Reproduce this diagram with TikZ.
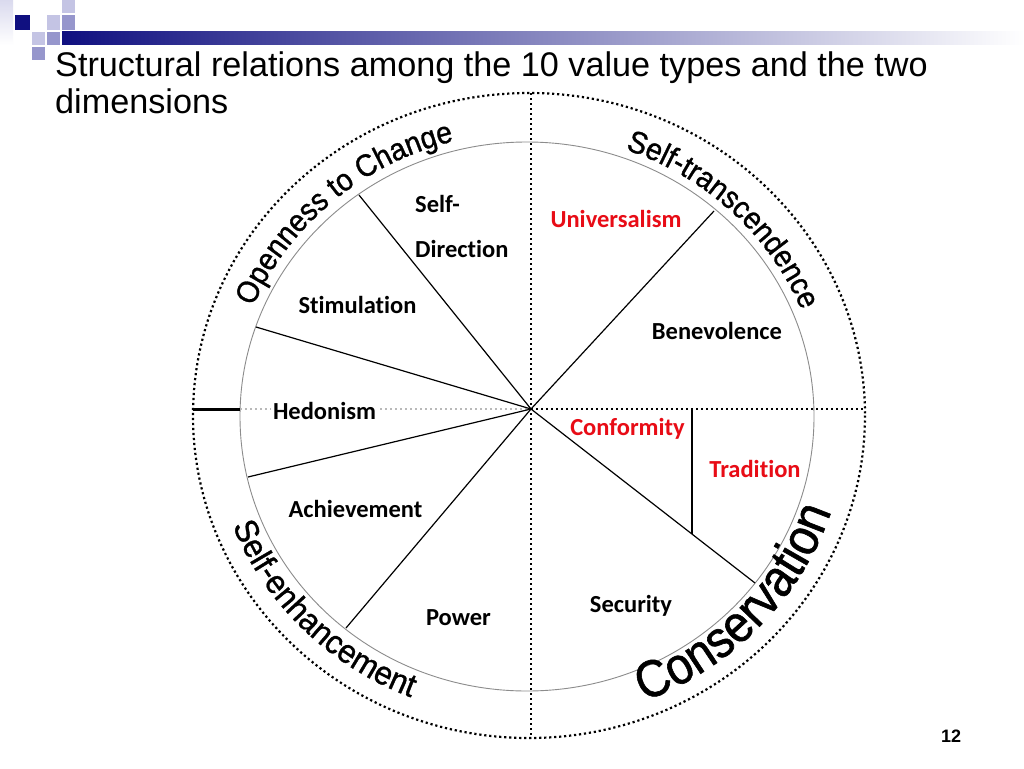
\documentclass[tikz,border=0pt]{standalone}
\usepackage{fontspec}
\setmainfont{Liberation Sans}
\newfontfamily\lblfamily[Ligatures=NoCommon]{Carlito}
\newfontfamily\arcfam[FakeStretch=0.92, FakeBold=1.0]{Liberation Sans}
\newfontfamily\arcfamw[FakeStretch=0.95, FakeBold=1.0]{Liberation Sans}
\newfontfamily\arcfamb[FakeStretch=0.9, FakeBold=1.1]{Liberation Sans}
\usetikzlibrary{decorations.text,calc}
\definecolor{valred}{RGB}{232,12,22}
\definecolor{navyc}{RGB}{16,16,128}
\definecolor{lavlight}{RGB}{196,196,228}
\definecolor{lavmid}{RGB}{150,150,204}
\definecolor{lavpale}{RGB}{218,218,238}
\definecolor{ringgray}{RGB}{140,140,140}
\definecolor{dotgray}{RGB}{185,185,185}
\newcommand\arcfont{\arcfam\fontsize{31pt}{31pt}\selectfont}
\newcommand\arcmid{\arcfamw\fontsize{33pt}{33pt}\selectfont}
\newcommand\arcbig{\arcfamb\fontsize{52pt}{52pt}\selectfont}
\begin{document}
\begin{tikzpicture}[x=1pt,y=-1pt,
  lbl/.style={font=\lblfamily\bfseries\fontsize{24.5pt}{26pt}\selectfont, inner sep=0pt, anchor=base},
  redlbl/.style={lbl, text=valred},
  spoke/.style={line width=1.2pt, black},
  dotline/.style={line width=2.2pt, dash pattern=on 2.2pt off 2.8pt},
  arctext/.style={decorate, decoration={text along path, text align=center, text={#1}}},
]
\useasboundingbox (0,0) rectangle (1024,768);
\fill[white] (0,0) rectangle (1024,768);

% top-left ornament
\shade[top color=lavpale, bottom color=white] (0,0) rectangle (13,45);
\fill[navyc] (15,15) rectangle (30,30);
\fill[lavlight] (47,15) rectangle (60,30);
\fill[lavlight] (62,0) rectangle (75,13);
\fill[lavmid] (62,15) rectangle (75,30);
\fill[lavlight] (32,32) rectangle (45,45);
\fill[lavmid] (47,32) rectangle (60,45);
\fill[lavmid] (32,47) rectangle (45,60);
\shade[left color=navyc, right color=white] (62,32) rectangle (1024,45);

% title
\node[anchor=base west, inner sep=0pt, font=\fontsize{34.2pt}{34pt}\selectfont] (title1) at (55,76) {Structural relations among the 10 value types and the two};
\node[anchor=base west, inner sep=0pt, font=\fontsize{34.2pt}{34pt}\selectfont] (title2) at (55,113) {dimensions};

% geometry
\coordinate (c) at (527,416.5);
\coordinate (o) at (531,409);
\coordinate (vtop) at (531,93);
\coordinate (vbot) at (531,738);
\coordinate (hright) at (865,409);
\coordinate (hleft) at (193,409);
\coordinate (ileft) at (240,409);
\coordinate (p1) at (359,195);
\coordinate (p2) at (256,327);
\coordinate (p3) at (248,477);
\coordinate (p4) at (346,628);
\coordinate (p5) at (714,211);
\coordinate (p6) at (755,583);
\coordinate (tradtop) at (692,409);
\coordinate (tradbot) at ($(o)!0.71875!(p6)$);

% rings
\draw[ringgray, line width=0.9pt] (c) ellipse [x radius=287, y radius=274.5];
\draw[dotline] (529,415.5) ellipse [x radius=336, y radius=322.5];

% axes
\draw[dotgray, line width=1.6pt, dash pattern=on 1.6pt off 3.4pt] (ileft) -- (o);
\draw[line width=3pt] (hleft) -- (ileft);
\draw[dotline] (vtop) -- (vbot);
\draw[dotline] (o) -- (hright);

% spokes
\draw[spoke] (o) -- (p1);
\draw[spoke] (o) -- (p2);
\draw[spoke] (o) -- (p3);
\draw[spoke] (o) -- (p4);
\draw[spoke] (o) -- (p5);
\draw[spoke] (o) -- (p6);
\draw[line width=1.4pt] (tradtop) -- (tradbot);

% value labels
\node[lbl, anchor=base west] (selfd1) at (415,212) {Self-};
\node[lbl, anchor=base west] (selfd2) at (415,257) {Direction};
\node[redlbl] (univ) at (616,227) {Universalism};
\node[lbl] (stim) at (357.5,313) {Stimulation};
\node[lbl] (bene) at (717,339) {Benevolence};
\node[lbl, fill=white, inner xsep=2pt] (hedo) at (324.5,419) {Hedonism};
\node[redlbl] (conf) at (627.5,435) {Conformity};
\node[redlbl] (trad) at (755,477) {Tradition};
\node[lbl] (achi) at (355.5,517) {Achievement};
\node[lbl] (powr) at (458.5,625) {Power};
\node[lbl] (secu) at (631,612) {Security};

% dimension labels along arcs
\path[shift={(527,416.5)}, arctext={|\arcfont|Openness to Change}]
  (189:297 and 284) arc[start angle=189, end angle=269, x radius=297, y radius=284];
\path[shift={(527,416.5)}, arctext={|\arcfont|Self-transcendence}]
  (274:296 and 283) arc[start angle=274, end angle=354, x radius=296, y radius=283];
\path[shift={(527,416.5)}, arctext={|\arcmid|Self-enhancement}]
  (175.5:315.7 and 302) arc[start angle=175.5, end angle=95.5, x radius=315.7, y radius=302];
\path[shift={(527,416.5)}, arctext={|\arcbig|Conservation}]
  (83:320 and 306) arc[start angle=83, end angle=3, x radius=320, y radius=306];

% page number
\node[anchor=base, inner sep=0pt, font=\bfseries\fontsize{18pt}{18pt}\selectfont] (pg) at (951,742) {12};
\end{tikzpicture}
\end{document}
